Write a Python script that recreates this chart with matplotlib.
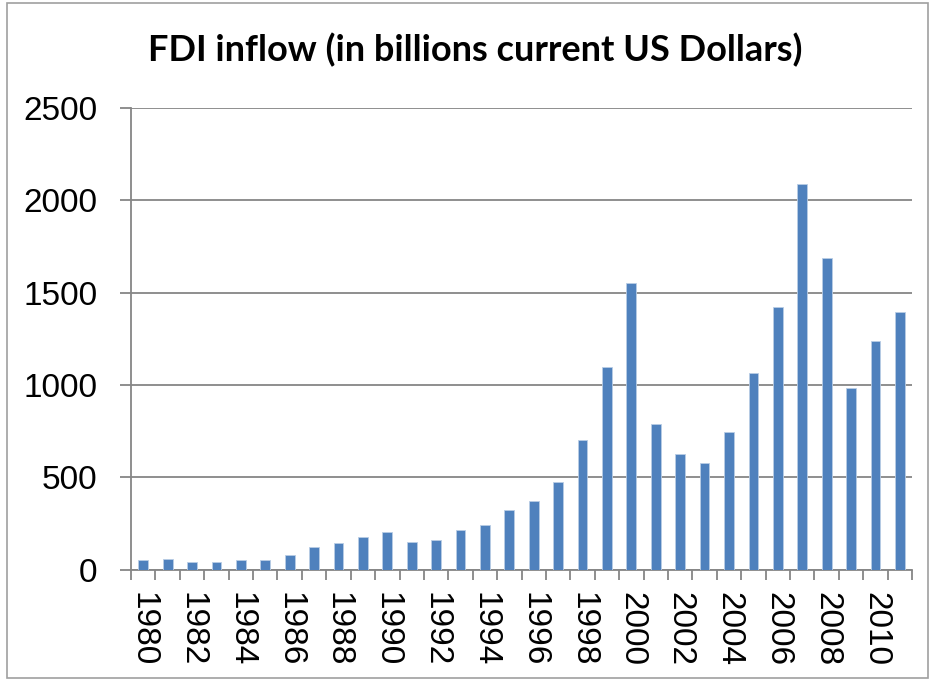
import numpy as np
import matplotlib.pyplot as plt
from matplotlib.patches import Rectangle

# FDI inflow by year, billions of current US dollars
years = list(range(1980, 2012))
fdi = [51, 55, 40, 40, 50, 50, 78, 120, 143, 175, 202, 150, 158, 214, 243, 325,
       370, 472, 703, 1099, 1553, 789, 625, 576, 743, 1063, 1421, 2087, 1688, 985,
       1237, 1393]
yticks = [0, 500, 1000, 1500, 2000, 2500]

grey = '#868686'

fig = plt.figure(figsize=(9.32, 6.8), dpi=100)
ax = fig.add_axes([0.1406, 0.1625, 0.838, 0.6785])

x = np.arange(len(years))
ax.bar(x, fdi, width=0.4, color='#4F81BD', edgecolor='#B9CDE5', linewidth=0.6, zorder=3)

ax.set_xlim(-0.5, len(years) - 0.5)
ax.set_ylim(0, 2500)

# y axis with gridlines
ax.set_yticks(yticks)
ax.set_yticklabels([str(v) for v in yticks], fontsize=24, family='Liberation Sans')
ax.yaxis.grid(True, color=grey, linewidth=1.3, zorder=0)
ax.tick_params(axis='y', length=8, width=1.3, color=grey, pad=16)

# category boundaries get tick marks, every other year gets a label
ax.set_xticks(np.arange(len(years) + 1) - 0.5)
ax.set_xticklabels([])
ax.tick_params(axis='x', which='major', length=7.5, width=1.3, color=grey)
ax.set_xticks(x[::2], minor=True)
ax.set_xticklabels([str(y) for y in years[::2]], minor=True, rotation=270,
                   fontsize=24, family='Liberation Sans')
ax.tick_params(axis='x', which='minor', length=0, pad=16)

for side in ['top', 'right']:
    ax.spines[side].set_visible(False)
for side in ['left', 'bottom']:
    ax.spines[side].set_color(grey)
    ax.spines[side].set_linewidth(1.3)

fig.text(0.51, 0.926, 'FDI inflow (in billions current US Dollars)', ha='center', va='center',
         fontsize=26, fontweight='bold', family='Lato')

# outer chart border
fig.patches.append(Rectangle((0.0075, 0.003), 0.988, 0.992, transform=fig.transFigure,
                             fill=False, edgecolor='#A0A0A0', linewidth=1.2))

fig.savefig('out.png', dpi=100)
